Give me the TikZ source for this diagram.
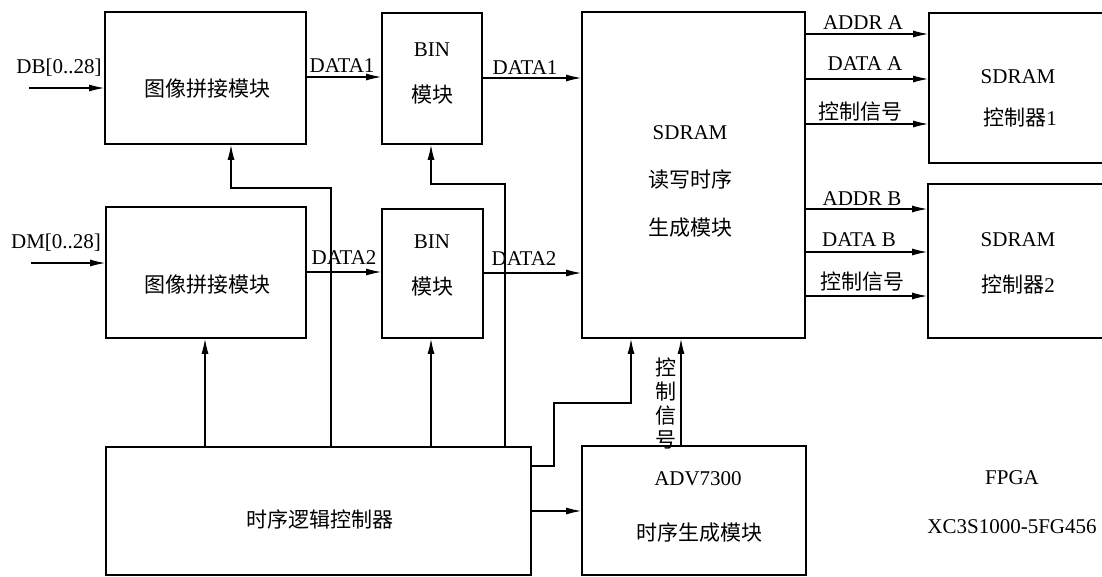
\documentclass[tikz,border=0pt]{standalone}
\usepackage{fontspec}
\setmainfont{Liberation Serif}
\newfontfamily\cjk{Noto Sans CJK SC}
\usetikzlibrary{arrows.meta,calc}
\begin{document}
\begin{tikzpicture}[x=1pt,y=-1pt,
  blk/.style={draw,line width=1.8pt,inner sep=0pt},
  txt/.style={inner sep=0pt,font=\fontsize{21}{24}\selectfont},
  ctxt/.style={inner sep=0pt,font=\fontsize{21}{24}\selectfont\cjk},
  arr/.style={-{Latex[length=15pt,width=7pt]},line width=1.1pt},
  wire/.style={line width=1.1pt}]
\useasboundingbox (0,0) rectangle (1102,576);
% boxes
\node[blk,minimum width=201,minimum height=132] (imgA) at (205.5,78) {};
\node[blk,minimum width=100,minimum height=131] (binA) at (432,78.5) {};
\node[blk,minimum width=223,minimum height=326] (sdram) at (693.5,175) {};
\node[blk,minimum width=176,minimum height=150] (ctrlA) at (1017,88) {};
\node[blk,minimum width=176,minimum height=154] (ctrlB) at (1016,261) {};
\node[blk,minimum width=200,minimum height=131] (imgB) at (206,272.5) {};
\node[blk,minimum width=101,minimum height=129] (binB) at (432.5,273.5) {};
\node[blk,minimum width=425,minimum height=128] (logic) at (318.5,511) {};
\node[blk,minimum width=224,minimum height=129] (adv) at (694,510.5) {};
% box texts
\node[ctxt] (imgAt) at (207,89) {图像拼接模块};
\node[ctxt] (imgBt) at (207,285) {图像拼接模块};
\node[txt] (binAt1) at (432,50) {BIN};
\node[ctxt] (binAt2) at (432,95) {模块};
\node[txt] (binBt1) at (432,242) {BIN};
\node[ctxt] (binBt2) at (432,287) {模块};
\node[txt] (sdt1) at (690,133) {SDRAM};
\node[ctxt] (sdt2) at (690,180) {读写时序};
\node[ctxt] (sdt3) at (690,228) {生成模块};
\node[txt] (cAt1) at (1018,77) {SDRAM};
\node[txt] (cAt2) at (1020,118) {{\cjk 控制器}1};
\node[txt] (cBt1) at (1018,240) {SDRAM};
\node[txt] (cBt2) at (1018,285) {{\cjk 控制器}2};
\node[ctxt] (logt) at (320,519) {时序逻辑控制器};
\node[txt] (advt1) at (698,479) {ADV7300};
\node[ctxt] (advt2) at (699,533) {时序生成模块};
\node[txt] (fpga) at (1012,478) {FPGA};
\node[txt] (chip) at (1012,527) {XC3S1000-5FG456};
% input arrows
\coordinate (dbin) at (29,88);
\coordinate (dmin) at (31,263);
\node[txt] (dbl) at (59,68) {DB[0..28]};
\node[txt] (dml) at (56,243) {DM[0..28]};
\draw[arr] (dbin) -- (dbin -| imgA.west);
\draw[arr] (dmin) -- (dmin -| imgB.west);
% data paths
\coordinate (y1) at (0,77);
\coordinate (y1b) at (0,78);
\coordinate (y2) at (0,272);
\coordinate (y2b) at (0,273);
\draw[arr] (imgA.east |- y1) -- (binA.west |- y1);
\draw[arr] (binA.east |- y1b) -- (sdram.west |- y1b);
\draw[arr] (imgB.east |- y2) -- (binB.west |- y2);
\draw[arr] (binB.east |- y2b) -- (sdram.west |- y2b);
\node[txt] (d1a) at (342,66) {DATA1};
\node[txt] (d1b) at (525,68) {DATA1};
\node[txt] (d2a) at (344,258) {DATA2};
\node[txt] (d2b) at (524,259) {DATA2};
% sdram to controllers
\coordinate (r1) at (0,34);
\coordinate (r2) at (0,79);
\coordinate (r3) at (0,124);
\coordinate (r4) at (0,209);
\coordinate (r5) at (0,252);
\coordinate (r6) at (0,296);
\draw[arr] (sdram.east |- r1) -- (ctrlA.west |- r1);
\draw[arr] (sdram.east |- r2) -- (ctrlA.west |- r2);
\draw[arr] (sdram.east |- r3) -- (ctrlA.west |- r3);
\draw[arr] (sdram.east |- r4) -- (ctrlB.west |- r4);
\draw[arr] (sdram.east |- r5) -- (ctrlB.west |- r5);
\draw[arr] (sdram.east |- r6) -- (ctrlB.west |- r6);
\node[txt] (la1) at (863,23) {ADDR A};
\node[txt] (la2) at (865,64) {DATA A};
\node[ctxt] (la3) at (860,112) {控制信号};
\node[txt] (lb1) at (862,199) {ADDR B};
\node[txt] (lb2) at (859,240) {DATA B};
\node[ctxt] (lb3) at (862,282) {控制信号};
% control lines from logic
\draw[arr] (logic.north -| 331,0) |- (231,188) -- (imgA.south -| 231,0);
\draw[arr] (logic.north -| 505,0) |- (431,184) -- (binA.south -| 431,0);
\draw[arr] (logic.north -| 205,0) -- (imgB.south -| 205,0);
\draw[arr] (logic.north -| 431,0) -- (binB.south -| 431,0);
\draw[arr] (logic.east |- 0,466) -- (554,466) -- (554,403) -- (631,403) -- (sdram.south -| 631,0);
\draw[arr] (logic.east |- 0,511) -- (adv.west |- 0,511);
\draw[arr] (adv.north -| 681,0) -- (sdram.south -| 681,0);
\node[ctxt,align=center] (vctl) at (666,403) {控\\制\\信\\号};
\end{tikzpicture}
\end{document}
